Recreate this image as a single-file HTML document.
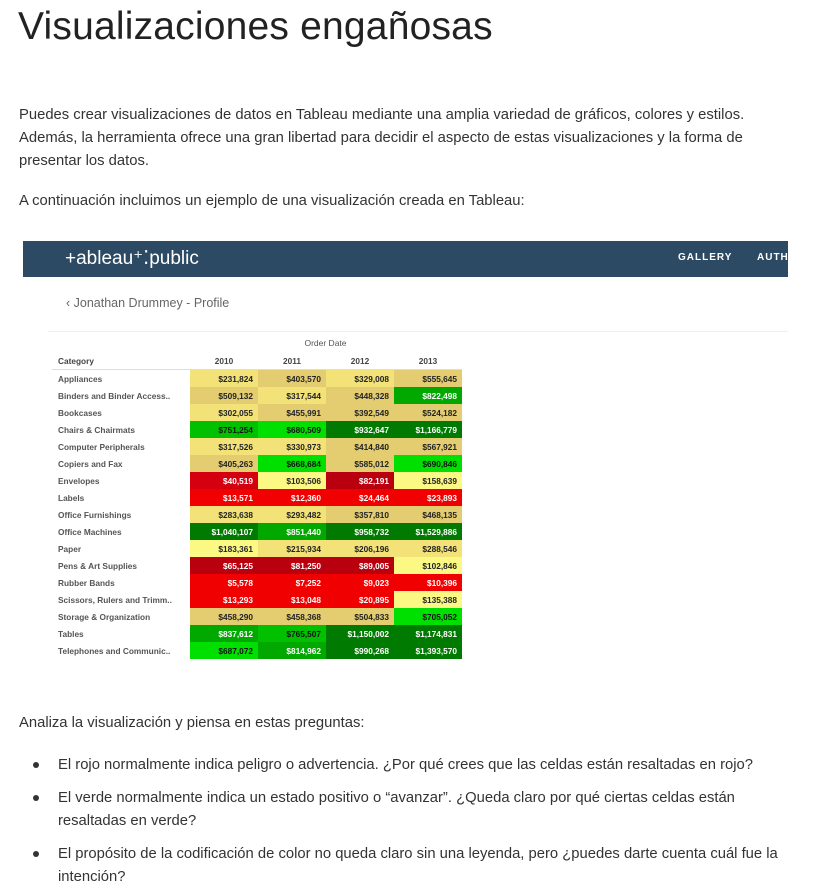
<!DOCTYPE html>
<html><head><meta charset="utf-8">
<style>
body{margin:0;width:829px;height:882px;background:#fff;font-family:"Liberation Sans",sans-serif;color:#333;position:relative;overflow:hidden}
.abs{position:absolute}
h1{position:absolute;left:18px;top:5px;margin:0;font-weight:normal;font-size:39px;color:#222;letter-spacing:0.2px}
p{position:absolute;left:19px;margin:0;font-size:14.8px;line-height:23px;color:#333;width:770px}
.b{position:absolute;left:33px;width:6px;height:6px;border-radius:50%;background:#333}
td{padding:0;height:17px;font-size:8.3px;font-weight:bold;white-space:nowrap;overflow:hidden}
table{border-collapse:collapse;table-layout:fixed;width:409px}
</style></head><body>
<h1>Visualizaciones engañosas</h1>
<p style="top:104px">Puedes crear visualizaciones de datos en Tableau mediante una amplia variedad de gráficos, colores y estilos. Además, la herramienta ofrece una gran libertad para decidir el aspecto de estas visualizaciones y la forma de presentar los datos.</p>
<p style="top:190px">A continuación incluimos un ejemplo de una visualización creada en Tableau:</p>

<div class="abs" style="left:23px;top:241px;width:765px;height:36px;background:#2c4a63">
 <div class="abs" style="left:42px;top:6px;color:#fff;font-size:19px">+ableau⁺⁚public</div>
 <div class="abs" style="left:655px;top:11px;color:#fff;font-size:10px;font-weight:bold;letter-spacing:1px">GALLERY</div>
 <div class="abs" style="left:734px;top:11px;color:#fff;font-size:10px;font-weight:bold;letter-spacing:1px">AUTH</div>
</div>
<div class="abs" style="left:66px;top:296px;color:#666;font-size:12.5px">&#x2039; Jonathan Drummey - Profile</div>
<div class="abs" style="left:48px;top:331px;width:740px;height:336px;border-top:1px solid #eee"></div>
<div class="abs" style="left:52px;top:338px;width:409px;text-align:center;font-size:8.5px;color:#555;padding-left:138px;box-sizing:border-box">Order Date</div>
<div id="tbl" class="abs" style="left:52px;top:352px"></div>

<p style="top:712px">Analiza la visualización y piensa en estas preguntas:</p>
<div class="b" style="top:762px"></div>
<p style="left:58px;top:754px;width:730px">El rojo normalmente indica peligro o advertencia. ¿Por qué crees que las celdas están resaltadas en rojo?</p>
<div class="b" style="top:795px"></div>
<p style="left:58px;top:787px;width:730px">El verde normalmente indica un estado positivo o “avanzar”. ¿Queda claro por qué ciertas celdas están resaltadas en verde?</p>
<div class="b" style="top:851px"></div>
<p style="left:58px;top:843px;width:730px">El propósito de la codificación de color no queda claro sin una leyenda, pero ¿puedes darte cuenta cuál fue la intención?</p>

<script>
const categories=["Appliances","Binders and Binder Access..","Bookcases","Chairs & Chairmats","Computer Peripherals","Copiers and Fax","Envelopes","Labels","Office Furnishings","Office Machines","Paper","Pens & Art Supplies","Rubber Bands","Scissors, Rulers and Trimm..","Storage & Organization","Tables","Telephones and Communic.."];
const years=["2010","2011","2012","2013"];
const sales2010=[231824,509132,302055,751254,317526,405263,40519,13571,283638,1040107,183361,65125,5578,13293,458290,837612,687072];
const sales2011=[403570,317544,455991,680509,330973,668684,103506,12360,293482,851440,215934,81250,7252,13048,458368,765507,814962];
const sales2012=[329008,448328,392549,932647,414840,585012,82191,24464,357810,958732,206196,89005,9023,20895,504833,1150002,990268];
const sales2013=[555645,822498,524182,1166779,567921,690846,158639,23893,468135,1529886,288546,102846,10396,135388,705052,1174831,1393570];
const series=[sales2010,sales2011,sales2012,sales2013];
function color(v){
 if(v<30000)return["#f00000","#fff"];
 if(v<60000)return["#d40010","#fff"];
 if(v<100000)return["#b8000f","#fff"];
 if(v<200000)return["#fcf884","#222"];
 if(v<350000)return["#f2e278","#222"];
 if(v<620000)return["#e4cd70","#222"];
 if(v<720000)return["#00e000","#111"];
 if(v<800000)return["#00c000","#111"];
 if(v<900000)return["#00a800","#fff"];
 return["#007a00","#fff"];
}
function fmt(v){return "$"+v.toLocaleString("en-US");}
const t=document.createElement('table');


let h=document.createElement('tr');
let c0=document.createElement('td');c0.textContent="Category";c0.style.cssText="width:132px;color:#444;padding-left:6px;height:16px;border-bottom:1px solid #ddd";


h.appendChild(c0);
years.forEach(y=>{const c=document.createElement('td');c.textContent=y;c.style.cssText="width:68px;text-align:center;color:#444;border-bottom:1px solid #ddd";


h.appendChild(c);});
t.appendChild(h);
categories.forEach((cat,i)=>{
 const r=document.createElement('tr');
 const l=document.createElement('td');l.textContent=cat;l.style.cssText="color:#555;padding-left:6px";
 
 
 r.appendChild(l);
 series.forEach((s,j)=>{
  const c=document.createElement('td');const [bg,fg]=color(s[i]);
  c.textContent=fmt(s[i]);c.style.cssText="text-align:right;padding-right:5px;background:"+bg+";color:"+fg;
  
  
  r.appendChild(c);
 });
 t.appendChild(r);
});
document.getElementById('tbl').appendChild(t);
</script>
</body></html>
